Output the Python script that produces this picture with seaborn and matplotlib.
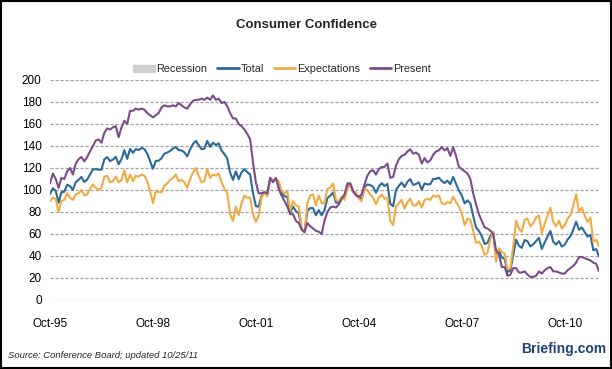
import pandas as pd
import matplotlib.pyplot as plt
import seaborn as sns
from matplotlib.patches import Patch
from matplotlib.lines import Line2D

# Monthly index values, Oct-95 .. Oct-11
total = [96.3, 101.6, 99.2,
         88.4, 98.0, 98.4, 104.8, 103.5, 100.1, 107.0, 109.4, 111.8, 107.3, 109.5, 114.2,
         118.7, 118.9, 118.5, 118.5, 127.9, 129.9, 126.3, 127.6, 130.2, 123.4, 128.1, 136.2,
         128.3, 137.4, 133.8, 137.2, 136.3, 138.2, 137.2, 133.1, 126.4, 119.3, 126.4, 126.7,
         128.9, 133.1, 134.0, 135.5, 137.7, 139.0, 136.2, 136.0, 134.2, 130.5, 137.0, 141.7,
         144.7, 140.8, 137.1, 137.7, 144.7, 139.2, 143.0, 140.8, 142.5, 135.8, 132.6, 128.6,
         115.7, 109.2, 116.9, 109.9, 116.1, 118.9, 116.3, 114.0, 97.0, 85.3, 84.9, 94.6,
         97.8, 95.0, 110.7, 108.5, 110.3, 105.0, 97.4, 94.5, 93.7, 79.6, 84.9, 80.7,
         78.8, 64.8, 61.4, 81.0, 83.6, 83.5, 77.0, 81.7, 77.0, 81.7, 92.5, 94.8,
         97.7, 88.5, 88.5, 93.0, 93.1, 102.8, 105.7, 98.7, 96.7, 92.9, 92.6, 102.7,
         105.1, 104.4, 103.0, 97.5, 103.1, 106.2, 103.6, 105.5, 87.5, 85.2, 100.0, 103.8,
         106.8, 102.7, 107.5, 109.8, 104.7, 105.4, 107.0, 100.2, 105.9, 105.1, 105.3, 110.0,
         110.2, 111.2, 108.2, 106.3, 108.5, 105.3, 111.9, 105.6, 99.5, 95.2, 87.8, 90.6,
         87.9, 76.4, 65.9, 62.8, 58.1, 51.0, 51.9, 58.5, 61.4, 38.8, 44.7, 38.6,
         37.4, 25.3, 26.9, 40.8, 54.8, 49.3, 47.4, 54.5, 53.4, 48.7, 50.6, 53.6,
         56.5, 46.4, 52.3, 57.7, 62.7, 52.9, 50.4, 53.5, 48.6, 50.2, 55.0, 58.0,
         64.0, 71.2, 63.8, 66.0, 61.7, 57.6, 59.2, 45.2, 46.4, 39.8]

expectations = [90, 93, 92,
                80, 90, 91, 97, 93, 91, 96, 97, 100, 95, 96, 101,
                105, 102, 100, 102, 112, 113, 107, 108, 112, 107, 109, 118,
                107, 114, 108, 113, 112, 114, 113, 108, 99, 88, 99, 98,
                98, 104, 106, 109, 111, 114, 108, 109, 107, 102, 110, 116,
                120, 113, 107, 108, 119, 111, 114, 113, 115, 107, 101, 97,
                78, 72, 85, 77, 88, 95, 93, 93, 78, 71, 77, 93,
                98, 94, 110, 109, 110, 108, 99, 97, 99, 81, 90, 86,
                85, 65, 61, 88, 95, 96, 86, 95, 88, 88, 101, 102,
                106, 91, 90, 94, 91, 101, 105, 98, 98, 92, 90, 101,
                100, 96, 93, 87, 93, 96, 92, 93, 72, 68, 85, 88,
                91, 83, 89, 92, 86, 86, 90, 84, 91, 92, 91, 95,
                94, 95, 88, 87, 89, 88, 94, 89, 85, 79, 68, 74,
                73, 63, 52, 53, 49, 41, 43, 55, 62, 35, 47, 44,
                42, 28, 29, 49, 72, 65, 62, 73, 74, 67, 70, 75,
                77, 61, 69, 77, 84, 71, 67, 72, 65, 68, 74, 77,
                86, 96, 80, 84, 77, 71, 75, 53, 55, 49]

present = [106, 115, 110,
           102, 111, 110, 117, 120, 114, 124, 128, 130, 126, 130, 135,
           140, 145, 146, 143, 152, 156, 155, 157, 158, 148, 157, 163,
           160, 172, 172, 174, 173, 174, 173, 170, 168, 166, 168, 170,
           175, 177, 176, 176, 177, 176, 179, 177, 175, 174, 178, 181,
           182, 182, 183, 182, 184, 182, 186, 182, 183, 179, 180, 176,
           170, 165, 165, 160, 158, 155, 151, 146, 125, 107, 97, 97,
           98, 97, 111, 107, 111, 101, 95, 90, 85, 78, 78, 72,
           70, 64, 62, 70, 67, 65, 63, 62, 60, 72, 80, 84,
           85, 84, 87, 92, 96, 106, 106, 99, 95, 94, 96, 105,
           113, 117, 118, 114, 119, 121, 121, 124, 111, 112, 122, 128,
           131, 132, 135, 137, 133, 134, 132, 124, 129, 125, 127, 132,
           135, 136, 139, 136, 138, 131, 139, 131, 121, 119, 117, 115,
           110, 97, 87, 78, 72, 66, 65, 63, 60, 45, 42, 30,
           30, 22, 23, 29, 29, 25, 25, 26, 23, 21, 21, 22,
           26, 24, 27, 29, 30, 26, 26, 25, 24, 24, 27, 29,
           31, 34, 39, 39, 38, 37, 36, 34, 33, 26]

tick_labels = ['Oct-95', 'Oct-98', 'Oct-01', 'Oct-04', 'Oct-07', 'Oct-10']

colors = {'Total': '#2b6a98', 'Expectations': '#f0ab45', 'Present': '#7b4b8c'}

months = list(range(len(total)))
df = pd.DataFrame({'month': months, 'Total': total,
                   'Expectations': expectations, 'Present': present})
long = df.melt(id_vars='month', var_name='series', value_name='value')

sns.set_style('white')
plt.rcParams['font.family'] = ['Liberation Sans', 'DejaVu Sans']

fig = plt.figure(figsize=(6.12, 3.69), dpi=100)
ax = fig.add_axes([50 / 612, 1 - 300 / 369, 549 / 612, 220 / 369])

sns.lineplot(data=long, x='month', y='value', hue='series',
             hue_order=['Total', 'Expectations', 'Present'],
             palette=colors, linewidth=1.5, legend=False, ax=ax)

ax.set_xlim(0, len(total) - 1)
ax.set_ylim(0, 200)
ax.set_yticks(range(0, 201, 20))
ax.set_xticks(range(0, len(total), 36))
ax.set_xticklabels(tick_labels)
ax.tick_params(axis='both', length=0, labelsize=8.5, colors='black')
ax.tick_params(axis='x', pad=13)
ax.tick_params(axis='y', pad=6)
ax.set_xlabel('')
ax.set_ylabel('')
ax.yaxis.grid(True, linestyle=(0, (2.5, 1.5)), color='#a0a0a0', linewidth=0.9)
ax.set_axisbelow(True)
for s in ax.spines.values():
    s.set_visible(False)

handles = [Patch(facecolor='#d0d0d0', edgecolor='#d0d0d0', hatch='....'),
           Line2D([], [], color=colors['Total'], lw=2),
           Line2D([], [], color=colors['Expectations'], lw=2),
           Line2D([], [], color=colors['Present'], lw=2)]
fig.legend(handles, ['Recession', 'Total', 'Expectations', 'Present'],
           loc='center', bbox_to_anchor=(282 / 612, 1 - 69 / 369), ncol=4,
           frameon=False, fontsize=7.8, handlelength=2.0, handleheight=0.6,
           handletextpad=0.15, columnspacing=0.9)

fig.text(0.5, 1 - 25 / 369, 'Consumer Confidence', ha='center', va='center',
         fontsize=9.5, fontweight='bold')
fig.text(8 / 612, 1 - 355 / 369, 'Source: Conference Board; updated 10/25/11',
         ha='left', va='center', fontsize=6.8, style='italic')
fig.text(606 / 612, 1 - 349 / 369, 'Briefing.com', ha='right', va='center',
         fontsize=10, fontweight='bold', color='#1f4175')

fig.patches.append(plt.Rectangle((0.001, 0.002), 0.997, 0.996, transform=fig.transFigure,
                                 fill=False, edgecolor='black', linewidth=1.5))

plt.savefig('out.png', dpi=100)
